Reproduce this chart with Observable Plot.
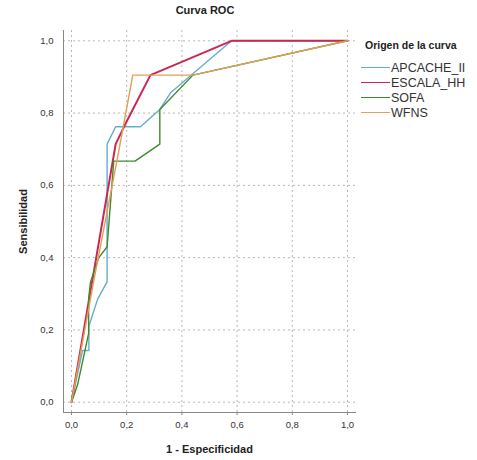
<!DOCTYPE html>
<html>
<head>
<meta charset="utf-8">
<script src="https://cdn.jsdelivr.net/npm/d3@7"></script>
<script src="https://cdn.jsdelivr.net/npm/@observablehq/plot@0.6"></script>
<style>
  html, body { margin: 0; padding: 0; background: #fff; }
  body { font-family: "Liberation Sans", Arial, sans-serif; }
  #wrap { position: relative; width: 477px; height: 460px; }
  #title { position: absolute; left: 0; width: 410px; top: 4px; text-align: center; font-weight: bold; font-size: 11px; color: #222; }
  #legend { position: absolute; left: 361px; top: 39px; font-size: 12.5px; color: #333; }
  #legend .lt { font-weight: bold; font-size: 10.5px; color: #222; margin-left: 4px; margin-bottom: 9px; }
  #legend .it { display: flex; align-items: center; height: 15px; }
  #legend .it span.l { display: inline-block; width: 29px; height: 0; border-top: 1.5px solid; margin-right: 1px; }
  svg [aria-label="x-axis label"] text, svg [aria-label="y-axis label"] text { font-weight: bold; font-size: 11px; fill: #222; }
</style>
</head>
<body>
<div id="wrap">
  <div id="chart"></div>
  <div id="title">Curva ROC</div>
  <div id="legend"></div>
</div>
<script>
const series = ["APCACHE_II", "ESCALA_HH", "SOFA", "WFNS"];
const colors = ["#62AED2", "#CC2752", "#3F8A2E", "#E0A058"];
const ticks = [0, 0.2, 0.4, 0.6, 0.8, 1.0];

const apacheX = [0, 0.04, 0.063, 0.063, 0.095, 0.129, 0.129, 0.16, 0.25, 0.32, 0.36, 0.58, 1];
const apacheY = [0, 0.143, 0.143, 0.21, 0.286, 0.333, 0.714, 0.762, 0.762, 0.81, 0.857, 1, 1];
const escalaX = [0, 0.16, 0.19, 0.286, 0.58, 1];
const escalaY = [0, 0.714, 0.762, 0.905, 1, 1];
const sofaX = [0, 0.022, 0.062, 0.062, 0.069, 0.099, 0.129, 0.153, 0.23, 0.32, 0.32, 0.44, 1];
const sofaY = [0, 0.048, 0.19, 0.286, 0.333, 0.40, 0.43, 0.667, 0.667, 0.714, 0.81, 0.905, 1];
const wfnsX = [0, 0.08, 0.17, 0.222, 0.44, 1];
const wfnsY = [0, 0.333, 0.69, 0.905, 0.905, 1];

const xs = [apacheX, escalaX, sofaX, wfnsX];
const ys = [apacheY, escalaY, sofaY, wfnsY];
const data = [];
series.forEach((s, i) => xs[i].forEach((x, j) => data.push({serie: s, x, y: ys[i][j]})));

const fmt = d => d.toFixed(1).replace(".", ",");

const chart = Plot.plot({
  width: 477,
  height: 460,
  marginLeft: 63,
  marginRight: 122,
  marginTop: 30,
  marginBottom: 48,
  style: { fontFamily: "Liberation Sans, Arial, sans-serif", fontSize: "9.5px", color: "#333", background: "#fff" },
  x: { domain: [-0.029, 1.029] },
  y: { domain: [-0.0285, 1.0285] },
  color: { domain: series, range: colors },
  marks: [
    Plot.gridX(ticks, { stroke: "#b8b8b8", strokeOpacity: 1, strokeDasharray: "2,3" }),
    Plot.gridY(ticks, { stroke: "#b8b8b8", strokeOpacity: 1, strokeDasharray: "2,3" }),
    Plot.frame({ anchor: "left", stroke: "#888" }),
    Plot.frame({ anchor: "bottom", stroke: "#888" }),
    Plot.axisX(ticks, { tickFormat: fmt, tickSize: 3, tickPadding: 6, stroke: "#888", label: "1 - Especificidad", labelArrow: "none", labelAnchor: "center", labelOffset: 40 }),
    Plot.axisY(ticks, { tickFormat: fmt, tickSize: 0, tickPadding: 10, label: "Sensibilidad", labelArrow: "none", labelAnchor: "center", labelOffset: 44 }),
    Plot.line(data, { x: "x", y: "y", z: "serie", stroke: "serie", strokeWidth: d => d.serie === "ESCALA_HH" ? 2 : 1.4, curve: "linear" })
  ]
});
document.getElementById("chart").appendChild(chart);

const leg = document.getElementById("legend");
leg.innerHTML = '<div class="lt">Origen de la curva</div>' +
  series.map((s, i) => `<div class="it"><span class="l" style="border-color:${colors[i]}"></span>${s}</div>`).join("");
</script>
</body>
</html>
